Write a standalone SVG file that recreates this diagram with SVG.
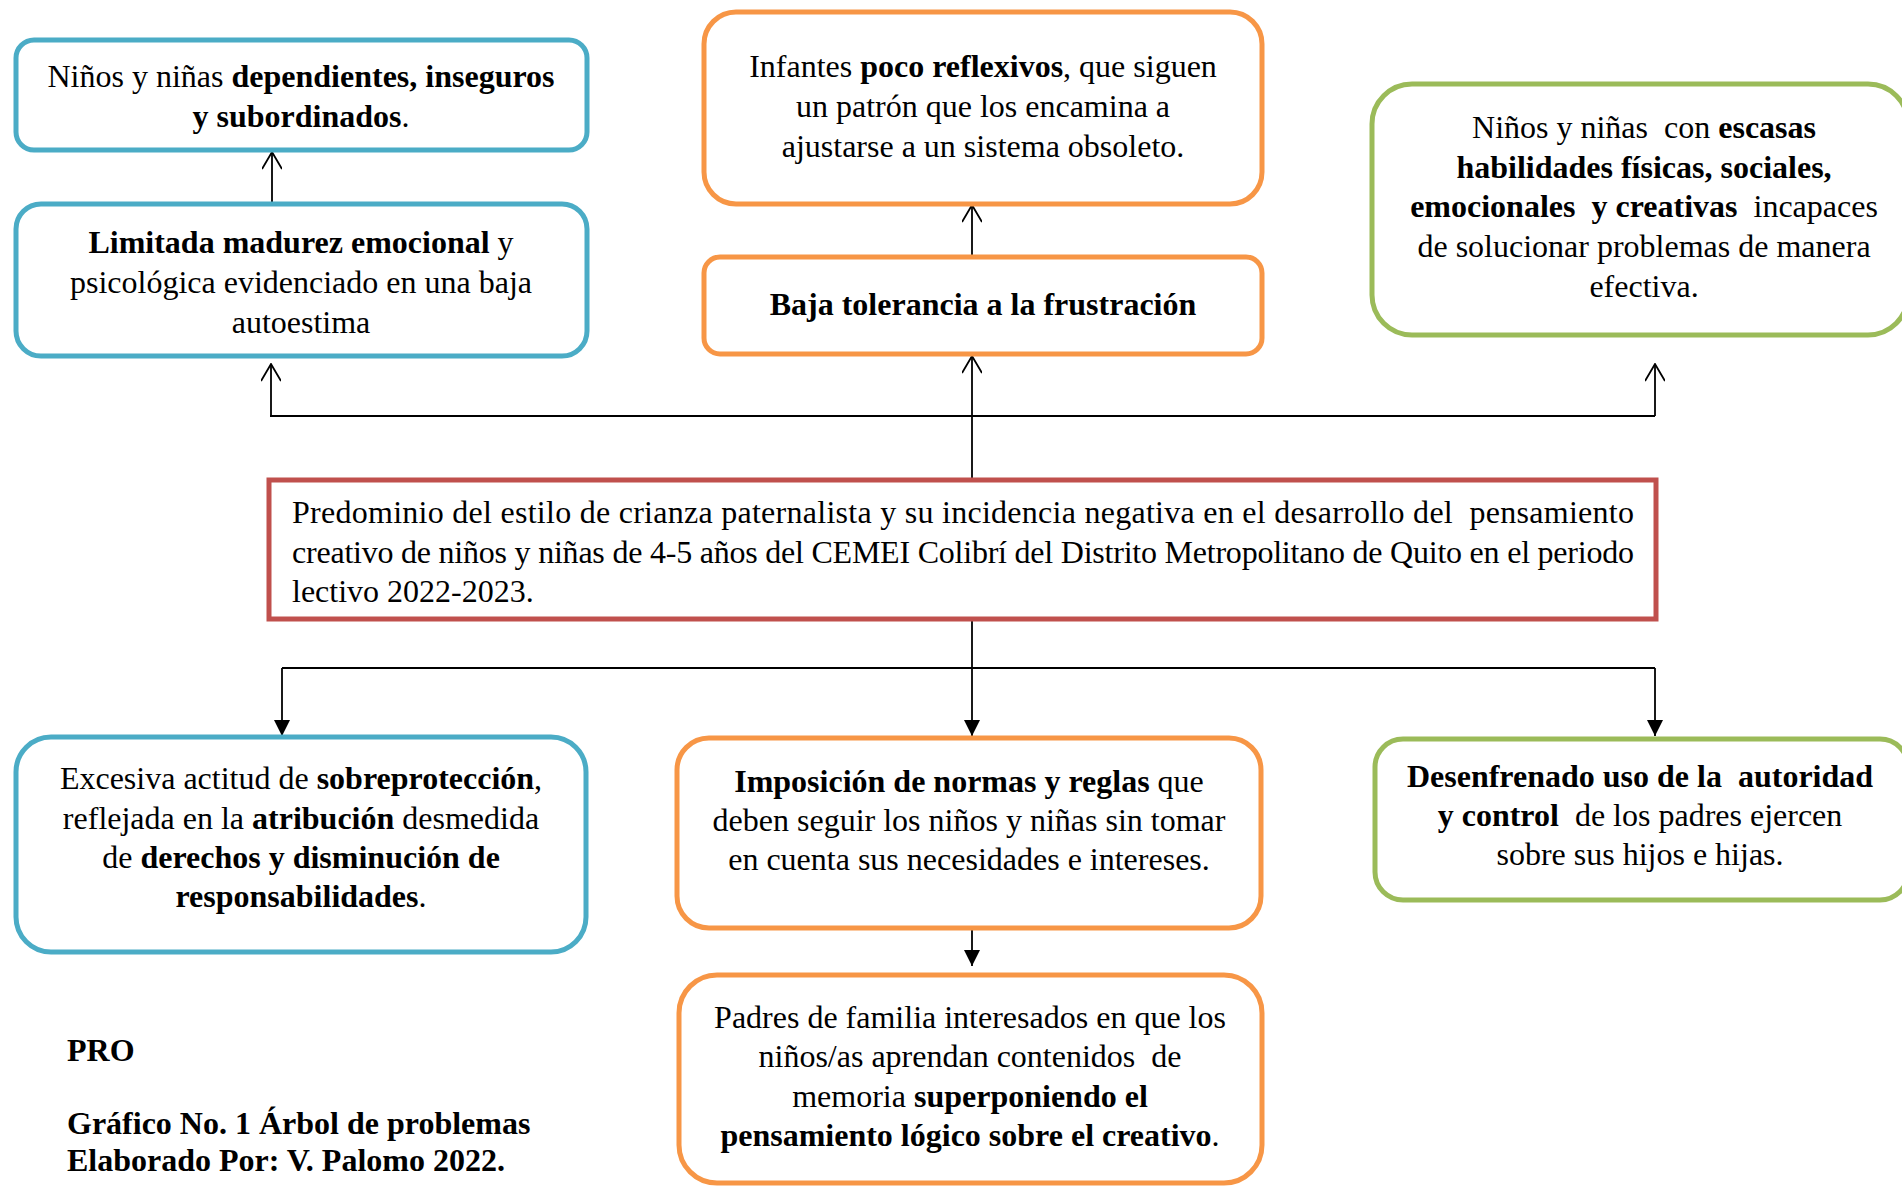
<svg xmlns="http://www.w3.org/2000/svg" width="1902" height="1187" viewBox="0 0 1902 1187">
<defs>
<style>
text{font-family:"Liberation Serif","Times New Roman",serif;font-size:32px;fill:#000}
.c{text-anchor:middle}
.b{font-weight:bold}
.box{fill:#fff;stroke-width:5}
.blue{stroke:#4BACC6}
.orange{stroke:#F79646}
.green{stroke:#9BBB59}
.red{stroke:#C0504D}
.ln{stroke:#000;stroke-width:1.8;fill:none}
.pre{white-space:pre}
</style>
<marker id="open" viewBox="0 0 20 20" refX="19" refY="10" markerWidth="20" markerHeight="20" markerUnits="userSpaceOnUse" orient="auto">
<path d="M2,0 L19,10 L2,20" fill="none" stroke="#000" stroke-width="1.8"/>
</marker>
<marker id="fill" viewBox="0 0 16 16" refX="16" refY="8" markerWidth="16" markerHeight="16" markerUnits="userSpaceOnUse" orient="auto">
<path d="M0,0 L16,8 L0,16 Z" fill="#000"/>
</marker>
</defs>
<rect width="1902" height="1187" fill="#fff"/>
<g id="connectors">
<line class="ln" x1="272" y1="204" x2="272" y2="152" marker-end="url(#open)"/>
<line class="ln" x1="972" y1="257" x2="972" y2="205" marker-end="url(#open)"/>
<line class="ln" x1="270" y1="416" x2="1655" y2="416"/>
<line class="ln" x1="972" y1="480" x2="972" y2="416"/>
<line class="ln" x1="271" y1="416" x2="271" y2="364" marker-end="url(#open)"/>
<line class="ln" x1="972" y1="416" x2="972" y2="356" marker-end="url(#open)"/>
<line class="ln" x1="1655" y1="416" x2="1655" y2="364" marker-end="url(#open)"/>
<line class="ln" x1="972" y1="619" x2="972" y2="668"/>
<line class="ln" x1="282" y1="668" x2="1655" y2="668"/>
<line class="ln" x1="282" y1="668" x2="282" y2="736" marker-end="url(#fill)"/>
<line class="ln" x1="972" y1="668" x2="972" y2="736" marker-end="url(#fill)"/>
<line class="ln" x1="1655" y1="668" x2="1655" y2="736" marker-end="url(#fill)"/>
<line class="ln" x1="972" y1="928" x2="972" y2="966" marker-end="url(#fill)"/>
</g>
<g id="nodeA">
<rect class="box blue" x="16" y="40" width="571" height="110" rx="18"/>
<text class="c" x="301" y="87">Niños y niñas <tspan class="b">dependientes, inseguros</tspan></text>
<text class="c" x="301" y="127"><tspan class="b">y subordinados</tspan>.</text>
</g>
<g id="nodeB">
<rect class="box blue" x="16" y="204" width="571" height="152" rx="25"/>
<text class="c" x="301" y="253"><tspan class="b">Limitada madurez emocional</tspan> y</text>
<text class="c" x="301" y="293">psicológica evidenciado en una baja</text>
<text class="c" x="301" y="333">autoestima</text>
</g>
<g id="nodeC">
<rect class="box orange" x="704" y="12" width="558" height="192" rx="32"/>
<text class="c" x="983" y="77">Infantes <tspan class="b">poco reflexivos</tspan>, que siguen</text>
<text class="c" x="983" y="117">un patrón que los encamina a</text>
<text class="c" x="983" y="157">ajustarse a un sistema obsoleto.</text>
</g>
<g id="nodeD">
<rect class="box orange" x="704" y="257" width="558" height="97" rx="16"/>
<text class="c b" x="983" y="315">Baja tolerancia a la frustración</text>
</g>
<g id="nodeE">
<rect class="box green" x="1372" y="84" width="536" height="251" rx="40"/>
<text class="c pre" x="1644" y="138">Niños y niñas  con <tspan class="b">escasas</tspan></text>
<text class="c b" x="1644" y="178">habilidades físicas, sociales,</text>
<text class="c pre" x="1644" y="217"><tspan class="b">emocionales  y creativas</tspan>  incapaces</text>
<text class="c" x="1644" y="257">de solucionar problemas de manera</text>
<text class="c" x="1644" y="297">efectiva.</text>
</g>
<g id="nodeCenter">
<rect class="box red" x="269" y="480" width="1387" height="139"/>
<text class="pre" x="292" y="523" textLength="1342" lengthAdjust="spacing">Predominio del estilo de crianza paternalista y su incidencia negativa en el desarrollo del  pensamiento</text>
<text x="292" y="563" textLength="1342" lengthAdjust="spacing">creativo de niños y niñas de 4-5 años del CEMEI Colibrí del Distrito Metropolitano de Quito en el periodo</text>
<text x="292" y="602">lectivo 2022-2023.</text>
</g>
<g id="nodeF">
<rect class="box blue" x="16" y="737" width="570" height="215" rx="35"/>
<text class="c" x="301" y="789">Excesiva actitud de <tspan class="b">sobreprotección</tspan>,</text>
<text class="c" x="301" y="829">reflejada en la <tspan class="b">atribución</tspan> desmedida</text>
<text class="c" x="301" y="868">de <tspan class="b">derechos y disminución de</tspan></text>
<text class="c" x="301" y="907"><tspan class="b">responsabilidades</tspan>.</text>
</g>
<g id="nodeG">
<rect class="box orange" x="677" y="738" width="584" height="190" rx="32"/>
<text class="c" x="969" y="792"><tspan class="b">Imposición de normas y reglas</tspan> que</text>
<text class="c" x="969" y="831">deben seguir los niños y niñas sin tomar</text>
<text class="c" x="969" y="870">en cuenta sus necesidades e intereses.</text>
</g>
<g id="nodeH">
<rect class="box green" x="1375" y="739" width="533" height="161" rx="28"/>
<text class="c b pre" x="1640" y="787">Desenfrenado uso de la  autoridad</text>
<text class="c pre" x="1640" y="826"><tspan class="b">y control</tspan>  de los padres ejercen</text>
<text class="c" x="1640" y="865">sobre sus hijos e hijas.</text>
</g>
<g id="nodeI">
<rect class="box orange" x="679" y="975" width="583" height="208" rx="38"/>
<text class="c" x="970" y="1028">Padres de familia interesados en que los</text>
<text class="c pre" x="970" y="1067">niños/as aprendan contenidos  de</text>
<text class="c" x="970" y="1107">memoria <tspan class="b">superponiendo el</tspan></text>
<text class="c" x="970" y="1146"><tspan class="b">pensamiento lógico sobre el creativo</tspan>.</text>
</g>
<g id="footer">
<text class="b" x="67" y="1061">PRO</text>
<text class="b" x="67" y="1134">Gráfico No. 1 Árbol de problemas</text>
<text class="b" x="67" y="1171">Elaborado Por: V. Palomo 2022.</text>
</g>
</svg>
